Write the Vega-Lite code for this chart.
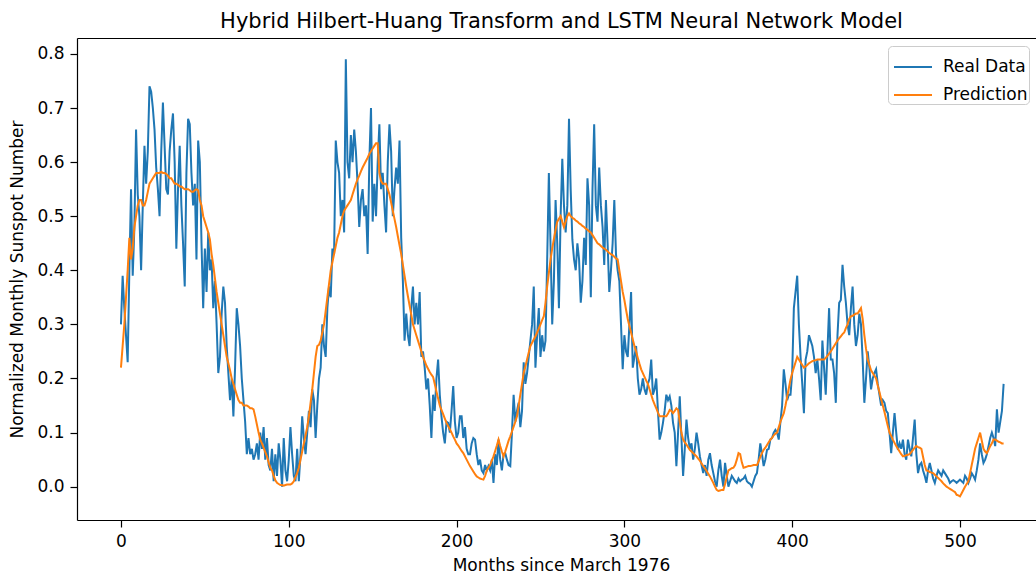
{
"$schema": "https://vega.github.io/schema/vega-lite/v6.json",
"autosize": {"type": "none"},
"padding": {"left": 77, "top": 38, "right": 0, "bottom": 56},
"width": 959,
"height": 482,
"background": "white",
"title": {"text": "Hybrid Hilbert-Huang Transform and LSTM Neural Network Model", "font": "DejaVu Sans", "fontSize": 21, "fontWeight": "normal", "color": "black", "anchor": "middle", "dx": 5, "baseline": "alphabetic", "offset": -11},
"data": {"values": [
{"m":0,"r":0.30,"p":0.22},{"m":1,"r":0.39,"p":0.26},{"m":2,"r":0.33,"p":0.30},{"m":3,"r":0.28,"p":0.35},{"m":4,"r":0.23,"p":0.40},{"m":5,"r":0.40,"p":0.46},{"m":6,"r":0.55,"p":0.42},{"m":7,"r":0.39,"p":0.44},{"m":8,"r":0.48,"p":0.48},{"m":9,"r":0.66,"p":0.50},
{"m":10,"r":0.54,"p":0.52},{"m":11,"r":0.50,"p":0.53},{"m":12,"r":0.40,"p":0.53},{"m":13,"r":0.52,"p":0.52},{"m":14,"r":0.63,"p":0.52},{"m":15,"r":0.56,"p":0.53},{"m":16,"r":0.62,"p":0.545},{"m":17,"r":0.74,"p":0.56},{"m":18,"r":0.73,"p":0.565},{"m":19,"r":0.70,"p":0.57},
{"m":20,"r":0.66,"p":0.575},{"m":21,"r":0.59,"p":0.58},{"m":22,"r":0.55,"p":0.58},{"m":23,"r":0.50,"p":0.58},{"m":24,"r":0.62,"p":0.582},{"m":25,"r":0.71,"p":0.58},{"m":26,"r":0.63,"p":0.58},{"m":27,"r":0.55,"p":0.578},{"m":28,"r":0.54,"p":0.575},{"m":29,"r":0.62,"p":0.57},
{"m":30,"r":0.66,"p":0.57},{"m":31,"r":0.69,"p":0.565},{"m":32,"r":0.60,"p":0.56},{"m":33,"r":0.44,"p":0.56},{"m":34,"r":0.55,"p":0.558},{"m":35,"r":0.63,"p":0.555},{"m":36,"r":0.52,"p":0.555},{"m":37,"r":0.45,"p":0.552},{"m":38,"r":0.37,"p":0.55},{"m":39,"r":0.58,"p":0.55},
{"m":40,"r":0.68,"p":0.55},{"m":41,"r":0.67,"p":0.548},{"m":42,"r":0.58,"p":0.545},{"m":43,"r":0.52,"p":0.545},{"m":44,"r":0.56,"p":0.548},{"m":45,"r":0.42,"p":0.55},{"m":46,"r":0.64,"p":0.548},{"m":47,"r":0.60,"p":0.53},{"m":48,"r":0.45,"p":0.52},{"m":49,"r":0.33,"p":0.50},
{"m":50,"r":0.44,"p":0.49},{"m":51,"r":0.36,"p":0.48},{"m":52,"r":0.47,"p":0.47},{"m":53,"r":0.40,"p":0.457},{"m":54,"r":0.42,"p":0.43},{"m":55,"r":0.33,"p":0.41},{"m":56,"r":0.38,"p":0.385},{"m":57,"r":0.30,"p":0.36},{"m":58,"r":0.21,"p":0.34},{"m":59,"r":0.24,"p":0.32},
{"m":60,"r":0.32,"p":0.30},{"m":61,"r":0.37,"p":0.28},{"m":62,"r":0.34,"p":0.26},{"m":63,"r":0.26,"p":0.24},{"m":64,"r":0.21,"p":0.228},{"m":65,"r":0.16,"p":0.215},{"m":66,"r":0.20,"p":0.20},{"m":67,"r":0.13,"p":0.19},{"m":68,"r":0.22,"p":0.18},{"m":69,"r":0.33,"p":0.17},
{"m":70,"r":0.30,"p":0.16},{"m":71,"r":0.26,"p":0.155},{"m":72,"r":0.20,"p":0.155},{"m":73,"r":0.16,"p":0.15},{"m":74,"r":0.12,"p":0.15},{"m":75,"r":0.06,"p":0.15},{"m":76,"r":0.09,"p":0.148},{"m":77,"r":0.06,"p":0.145},{"m":78,"r":0.07,"p":0.145},{"m":79,"r":0.05,"p":0.143},
{"m":80,"r":0.06,"p":0.13},{"m":81,"r":0.08,"p":0.115},{"m":82,"r":0.05,"p":0.10},{"m":83,"r":0.10,"p":0.087},{"m":84,"r":0.07,"p":0.08},{"m":85,"r":0.11,"p":0.072},{"m":86,"r":0.05,"p":0.064},{"m":87,"r":0.09,"p":0.056},{"m":88,"r":0.04,"p":0.045},{"m":89,"r":0.03,"p":0.035},
{"m":90,"r":0.07,"p":0.03},{"m":91,"r":0.01,"p":0.02},{"m":92,"r":0.06,"p":0.012},{"m":93,"r":0.02,"p":0.007},{"m":94,"r":0.08,"p":0.005},{"m":95,"r":0.05,"p":0.003},{"m":96,"r":0.00,"p":0.003},{"m":97,"r":0.09,"p":0.002},{"m":98,"r":0.03,"p":0.003},{"m":99,"r":0.01,"p":0.004},
{"m":100,"r":0.05,"p":0.004},{"m":101,"r":0.11,"p":0.004},{"m":102,"r":0.06,"p":0.006},{"m":103,"r":0.02,"p":0.01},{"m":104,"r":0.01,"p":0.018},{"m":105,"r":0.07,"p":0.025},{"m":106,"r":0.01,"p":0.035},{"m":107,"r":0.06,"p":0.05},{"m":108,"r":0.13,"p":0.065},{"m":109,"r":0.09,"p":0.08},
{"m":110,"r":0.06,"p":0.095},{"m":111,"r":0.10,"p":0.11},{"m":112,"r":0.14,"p":0.13},{"m":113,"r":0.11,"p":0.155},{"m":114,"r":0.18,"p":0.18},{"m":115,"r":0.16,"p":0.21},{"m":116,"r":0.09,"p":0.24},{"m":117,"r":0.15,"p":0.26},{"m":118,"r":0.20,"p":0.262},{"m":119,"r":0.22,"p":0.27},
{"m":120,"r":0.30,"p":0.285},{"m":121,"r":0.26,"p":0.30},{"m":122,"r":0.24,"p":0.325},{"m":123,"r":0.33,"p":0.35},{"m":124,"r":0.37,"p":0.375},{"m":125,"r":0.35,"p":0.40},{"m":126,"r":0.44,"p":0.415},{"m":127,"r":0.43,"p":0.43},{"m":128,"r":0.64,"p":0.445},{"m":129,"r":0.60,"p":0.46},
{"m":130,"r":0.58,"p":0.47},{"m":131,"r":0.50,"p":0.485},{"m":132,"r":0.53,"p":0.50},{"m":133,"r":0.47,"p":0.51},{"m":134,"r":0.79,"p":0.515},{"m":135,"r":0.60,"p":0.52},{"m":136,"r":0.57,"p":0.525},{"m":137,"r":0.65,"p":0.53},{"m":138,"r":0.60,"p":0.54},{"m":139,"r":0.66,"p":0.55},
{"m":140,"r":0.62,"p":0.56},{"m":141,"r":0.56,"p":0.568},{"m":142,"r":0.48,"p":0.575},{"m":143,"r":0.53,"p":0.583},{"m":144,"r":0.55,"p":0.59},{"m":145,"r":0.50,"p":0.596},{"m":146,"r":0.52,"p":0.602},{"m":147,"r":0.43,"p":0.608},{"m":148,"r":0.60,"p":0.615},{"m":149,"r":0.70,"p":0.62},
{"m":150,"r":0.49,"p":0.625},{"m":151,"r":0.56,"p":0.63},{"m":152,"r":0.50,"p":0.635},{"m":153,"r":0.60,"p":0.635},{"m":154,"r":0.67,"p":0.58},{"m":155,"r":0.55,"p":0.565},{"m":156,"r":0.58,"p":0.56},{"m":157,"r":0.52,"p":0.56},{"m":158,"r":0.47,"p":0.56},{"m":159,"r":0.60,"p":0.55},
{"m":160,"r":0.67,"p":0.54},{"m":161,"r":0.62,"p":0.525},{"m":162,"r":0.50,"p":0.51},{"m":163,"r":0.55,"p":0.495},{"m":164,"r":0.59,"p":0.48},{"m":165,"r":0.56,"p":0.463},{"m":166,"r":0.64,"p":0.446},{"m":167,"r":0.46,"p":0.43},{"m":168,"r":0.38,"p":0.41},{"m":169,"r":0.27,"p":0.39},
{"m":170,"r":0.32,"p":0.37},{"m":171,"r":0.28,"p":0.352},{"m":172,"r":0.26,"p":0.335},{"m":173,"r":0.33,"p":0.318},{"m":174,"r":0.37,"p":0.30},{"m":175,"r":0.30,"p":0.29},{"m":176,"r":0.34,"p":0.28},{"m":177,"r":0.30,"p":0.27},{"m":178,"r":0.36,"p":0.26},{"m":179,"r":0.24,"p":0.25},
{"m":180,"r":0.25,"p":0.24},{"m":181,"r":0.22,"p":0.232},{"m":182,"r":0.18,"p":0.224},{"m":183,"r":0.20,"p":0.218},{"m":184,"r":0.15,"p":0.212},{"m":185,"r":0.09,"p":0.207},{"m":186,"r":0.17,"p":0.203},{"m":187,"r":0.14,"p":0.19},{"m":188,"r":0.20,"p":0.176},{"m":189,"r":0.235,"p":0.163},
{"m":190,"r":0.17,"p":0.15},{"m":191,"r":0.13,"p":0.142},{"m":192,"r":0.10,"p":0.134},{"m":193,"r":0.08,"p":0.126},{"m":194,"r":0.12,"p":0.118},{"m":195,"r":0.118,"p":0.112},{"m":196,"r":0.10,"p":0.106},{"m":197,"r":0.14,"p":0.10},{"m":198,"r":0.186,"p":0.093},{"m":199,"r":0.12,"p":0.087},
{"m":200,"r":0.09,"p":0.08},{"m":201,"r":0.10,"p":0.076},{"m":202,"r":0.13,"p":0.071},{"m":203,"r":0.13,"p":0.066},{"m":204,"r":0.09,"p":0.062},{"m":205,"r":0.11,"p":0.056},{"m":206,"r":0.07,"p":0.05},{"m":207,"r":0.06,"p":0.044},{"m":208,"r":0.06,"p":0.038},{"m":209,"r":0.08,"p":0.033},
{"m":210,"r":0.09,"p":0.028},{"m":211,"r":0.087,"p":0.023},{"m":212,"r":0.06,"p":0.019},{"m":213,"r":0.04,"p":0.017},{"m":214,"r":0.05,"p":0.015},{"m":215,"r":0.03,"p":0.014},{"m":216,"r":0.025,"p":0.013},{"m":217,"r":0.04,"p":0.02},{"m":218,"r":0.03,"p":0.03},{"m":219,"r":0.038,"p":0.035},
{"m":220,"r":0.03,"p":0.04},{"m":221,"r":0.05,"p":0.048},{"m":222,"r":0.007,"p":0.056},{"m":223,"r":0.06,"p":0.066},{"m":224,"r":0.04,"p":0.076},{"m":225,"r":0.087,"p":0.087},{"m":226,"r":0.05,"p":0.075},{"m":227,"r":0.03,"p":0.065},{"m":228,"r":0.06,"p":0.056},{"m":229,"r":0.062,"p":0.065},
{"m":230,"r":0.05,"p":0.075},{"m":231,"r":0.04,"p":0.085},{"m":232,"r":0.038,"p":0.093},{"m":233,"r":0.10,"p":0.102},{"m":234,"r":0.17,"p":0.111},{"m":235,"r":0.12,"p":0.12},{"m":236,"r":0.14,"p":0.13},{"m":237,"r":0.155,"p":0.15},{"m":238,"r":0.11,"p":0.17},{"m":239,"r":0.14,"p":0.19},
{"m":240,"r":0.23,"p":0.21},{"m":241,"r":0.19,"p":0.222},{"m":242,"r":0.21,"p":0.235},{"m":243,"r":0.24,"p":0.248},{"m":244,"r":0.27,"p":0.26},{"m":245,"r":0.30,"p":0.266},{"m":246,"r":0.37,"p":0.272},{"m":247,"r":0.22,"p":0.278},{"m":248,"r":0.28,"p":0.285},{"m":249,"r":0.33,"p":0.292},
{"m":250,"r":0.24,"p":0.30},{"m":251,"r":0.28,"p":0.308},{"m":252,"r":0.25,"p":0.315},{"m":253,"r":0.27,"p":0.34},{"m":254,"r":0.42,"p":0.37},{"m":255,"r":0.58,"p":0.395},{"m":256,"r":0.445,"p":0.42},{"m":257,"r":0.30,"p":0.44},{"m":258,"r":0.38,"p":0.458},{"m":259,"r":0.53,"p":0.475},
{"m":260,"r":0.45,"p":0.49},{"m":261,"r":0.33,"p":0.495},{"m":262,"r":0.50,"p":0.50},{"m":263,"r":0.606,"p":0.49},{"m":264,"r":0.52,"p":0.48},{"m":265,"r":0.47,"p":0.49},{"m":266,"r":0.52,"p":0.50},{"m":267,"r":0.68,"p":0.505},{"m":268,"r":0.55,"p":0.50},{"m":269,"r":0.457,"p":0.497},
{"m":270,"r":0.42,"p":0.495},{"m":271,"r":0.40,"p":0.492},{"m":272,"r":0.45,"p":0.49},{"m":273,"r":0.42,"p":0.487},{"m":274,"r":0.34,"p":0.485},{"m":275,"r":0.38,"p":0.482},{"m":276,"r":0.46,"p":0.48},{"m":277,"r":0.41,"p":0.477},{"m":278,"r":0.57,"p":0.475},{"m":279,"r":0.52,"p":0.472},
{"m":280,"r":0.35,"p":0.47},{"m":281,"r":0.55,"p":0.465},{"m":282,"r":0.67,"p":0.46},{"m":283,"r":0.52,"p":0.455},{"m":284,"r":0.49,"p":0.45},{"m":285,"r":0.59,"p":0.448},{"m":286,"r":0.52,"p":0.445},{"m":287,"r":0.48,"p":0.442},{"m":288,"r":0.41,"p":0.44},{"m":289,"r":0.53,"p":0.438},
{"m":290,"r":0.45,"p":0.435},{"m":291,"r":0.36,"p":0.432},{"m":292,"r":0.40,"p":0.43},{"m":293,"r":0.45,"p":0.428},{"m":294,"r":0.53,"p":0.425},{"m":295,"r":0.43,"p":0.422},{"m":296,"r":0.40,"p":0.42},{"m":297,"r":0.38,"p":0.40},{"m":298,"r":0.30,"p":0.38},{"m":299,"r":0.217,"p":0.36},
{"m":300,"r":0.28,"p":0.345},{"m":301,"r":0.25,"p":0.327},{"m":302,"r":0.24,"p":0.31},{"m":303,"r":0.30,"p":0.297},{"m":304,"r":0.36,"p":0.285},{"m":305,"r":0.22,"p":0.272},{"m":306,"r":0.24,"p":0.26},{"m":307,"r":0.26,"p":0.25},{"m":308,"r":0.20,"p":0.238},{"m":309,"r":0.17,"p":0.227},
{"m":310,"r":0.18,"p":0.217},{"m":311,"r":0.20,"p":0.21},{"m":312,"r":0.18,"p":0.203},{"m":313,"r":0.17,"p":0.196},{"m":314,"r":0.19,"p":0.19},{"m":315,"r":0.20,"p":0.18},{"m":316,"r":0.235,"p":0.17},{"m":317,"r":0.17,"p":0.16},{"m":318,"r":0.18,"p":0.152},{"m":319,"r":0.20,"p":0.145},
{"m":320,"r":0.14,"p":0.137},{"m":321,"r":0.087,"p":0.13},{"m":322,"r":0.10,"p":0.13},{"m":323,"r":0.118,"p":0.13},{"m":324,"r":0.14,"p":0.13},{"m":325,"r":0.17,"p":0.13},{"m":326,"r":0.16,"p":0.135},{"m":327,"r":0.167,"p":0.142},{"m":328,"r":0.15,"p":0.14},{"m":329,"r":0.118,"p":0.136},
{"m":330,"r":0.10,"p":0.14},{"m":331,"r":0.038,"p":0.145},{"m":332,"r":0.10,"p":0.142},{"m":333,"r":0.167,"p":0.12},{"m":334,"r":0.09,"p":0.10},{"m":335,"r":0.02,"p":0.087},{"m":336,"r":0.07,"p":0.082},{"m":337,"r":0.124,"p":0.078},{"m":338,"r":0.09,"p":0.073},{"m":339,"r":0.07,"p":0.068},
{"m":340,"r":0.08,"p":0.065},{"m":341,"r":0.05,"p":0.062},{"m":342,"r":0.07,"p":0.059},{"m":343,"r":0.10,"p":0.056},{"m":344,"r":0.08,"p":0.052},{"m":345,"r":0.056,"p":0.048},{"m":346,"r":0.04,"p":0.043},{"m":347,"r":0.025,"p":0.038},{"m":348,"r":0.04,"p":0.034},{"m":349,"r":0.02,"p":0.029},
{"m":350,"r":0.05,"p":0.024},{"m":351,"r":0.062,"p":0.019},{"m":352,"r":0.04,"p":0.013},{"m":353,"r":0.025,"p":0.007},{"m":354,"r":0.01,"p":0.0},{"m":355,"r":0.0,"p":-0.006},{"m":356,"r":0.03,"p":-0.008},{"m":357,"r":0.05,"p":-0.007},{"m":358,"r":0.02,"p":-0.006},{"m":359,"r":0.0,"p":-0.006},
{"m":360,"r":0.044,"p":0.005},{"m":361,"r":0.02,"p":0.018},{"m":362,"r":0.0,"p":0.03},{"m":363,"r":0.01,"p":0.032},{"m":364,"r":0.02,"p":0.034},{"m":365,"r":0.015,"p":0.035},{"m":366,"r":0.01,"p":0.04},{"m":367,"r":0.007,"p":0.05},{"m":368,"r":0.015,"p":0.062},{"m":369,"r":0.01,"p":0.06},
{"m":370,"r":0.013,"p":0.045},{"m":371,"r":0.015,"p":0.035},{"m":372,"r":0.02,"p":0.036},{"m":373,"r":0.01,"p":0.037},{"m":374,"r":0.007,"p":0.038},{"m":375,"r":0.005,"p":0.038},{"m":376,"r":0.0,"p":0.039},{"m":377,"r":0.01,"p":0.04},{"m":378,"r":0.02,"p":0.04},{"m":379,"r":0.025,"p":0.04},
{"m":380,"r":0.05,"p":0.047},{"m":381,"r":0.08,"p":0.055},{"m":382,"r":0.06,"p":0.062},{"m":383,"r":0.038,"p":0.068},{"m":384,"r":0.05,"p":0.072},{"m":385,"r":0.068,"p":0.077},{"m":386,"r":0.07,"p":0.082},{"m":387,"r":0.087,"p":0.087},{"m":388,"r":0.09,"p":0.09},{"m":389,"r":0.10,"p":0.095},
{"m":390,"r":0.105,"p":0.098},{"m":391,"r":0.10,"p":0.10},{"m":392,"r":0.087,"p":0.11},{"m":393,"r":0.12,"p":0.12},{"m":394,"r":0.15,"p":0.128},{"m":395,"r":0.217,"p":0.136},{"m":396,"r":0.19,"p":0.15},{"m":397,"r":0.16,"p":0.166},{"m":398,"r":0.17,"p":0.182},{"m":399,"r":0.17,"p":0.198},
{"m":400,"r":0.21,"p":0.21},{"m":401,"r":0.33,"p":0.22},{"m":402,"r":0.36,"p":0.23},{"m":403,"r":0.39,"p":0.24},{"m":404,"r":0.30,"p":0.235},{"m":405,"r":0.24,"p":0.23},{"m":406,"r":0.19,"p":0.225},{"m":407,"r":0.136,"p":0.22},{"m":408,"r":0.235,"p":0.222},{"m":409,"r":0.25,"p":0.225},
{"m":410,"r":0.28,"p":0.228},{"m":411,"r":0.27,"p":0.23},{"m":412,"r":0.26,"p":0.232},{"m":413,"r":0.24,"p":0.233},{"m":414,"r":0.21,"p":0.234},{"m":415,"r":0.235,"p":0.235},{"m":416,"r":0.20,"p":0.235},{"m":417,"r":0.16,"p":0.235},{"m":418,"r":0.27,"p":0.235},{"m":419,"r":0.22,"p":0.235},
{"m":420,"r":0.17,"p":0.238},{"m":421,"r":0.25,"p":0.242},{"m":422,"r":0.33,"p":0.246},{"m":423,"r":0.235,"p":0.25},{"m":424,"r":0.235,"p":0.255},{"m":425,"r":0.21,"p":0.26},{"m":426,"r":0.155,"p":0.265},{"m":427,"r":0.28,"p":0.27},{"m":428,"r":0.34,"p":0.274},{"m":429,"r":0.345,"p":0.278},
{"m":430,"r":0.41,"p":0.282},{"m":431,"r":0.37,"p":0.285},{"m":432,"r":0.34,"p":0.293},{"m":433,"r":0.30,"p":0.30},{"m":434,"r":0.28,"p":0.31},{"m":435,"r":0.33,"p":0.315},{"m":436,"r":0.37,"p":0.316},{"m":437,"r":0.30,"p":0.318},{"m":438,"r":0.26,"p":0.32},{"m":439,"r":0.28,"p":0.32},
{"m":440,"r":0.32,"p":0.325},{"m":441,"r":0.30,"p":0.33},{"m":442,"r":0.235,"p":0.31},{"m":443,"r":0.155,"p":0.28},{"m":444,"r":0.20,"p":0.255},{"m":445,"r":0.25,"p":0.235},{"m":446,"r":0.22,"p":0.225},{"m":447,"r":0.18,"p":0.215},{"m":448,"r":0.20,"p":0.21},{"m":449,"r":0.21,"p":0.205},
{"m":450,"r":0.217,"p":0.20},{"m":451,"r":0.19,"p":0.187},{"m":452,"r":0.17,"p":0.175},{"m":453,"r":0.15,"p":0.162},{"m":454,"r":0.16,"p":0.15},{"m":455,"r":0.155,"p":0.138},{"m":456,"r":0.14,"p":0.125},{"m":457,"r":0.136,"p":0.112},{"m":458,"r":0.10,"p":0.10},{"m":459,"r":0.062,"p":0.094},
{"m":460,"r":0.10,"p":0.087},{"m":461,"r":0.136,"p":0.081},{"m":462,"r":0.10,"p":0.075},{"m":463,"r":0.068,"p":0.07},{"m":464,"r":0.08,"p":0.065},{"m":465,"r":0.07,"p":0.06},{"m":466,"r":0.087,"p":0.056},{"m":467,"r":0.06,"p":0.057},{"m":468,"r":0.05,"p":0.058},{"m":469,"r":0.087,"p":0.059},
{"m":470,"r":0.07,"p":0.06},{"m":471,"r":0.056,"p":0.064},{"m":472,"r":0.09,"p":0.068},{"m":473,"r":0.124,"p":0.072},{"m":474,"r":0.06,"p":0.075},{"m":475,"r":0.025,"p":0.073},{"m":476,"r":0.04,"p":0.072},{"m":477,"r":0.044,"p":0.07},{"m":478,"r":0.03,"p":0.055},{"m":479,"r":0.02,"p":0.04},
{"m":480,"r":0.007,"p":0.03},{"m":481,"r":0.03,"p":0.029},{"m":482,"r":0.044,"p":0.027},{"m":483,"r":0.03,"p":0.026},{"m":484,"r":0.015,"p":0.025},{"m":485,"r":0.007,"p":0.022},{"m":486,"r":0.02,"p":0.019},{"m":487,"r":0.03,"p":0.016},{"m":488,"r":0.025,"p":0.013},{"m":489,"r":0.02,"p":0.01},
{"m":490,"r":0.03,"p":0.006},{"m":491,"r":0.025,"p":0.003},{"m":492,"r":0.02,"p":0.0},{"m":493,"r":0.015,"p":-0.002},{"m":494,"r":0.007,"p":-0.004},{"m":495,"r":0.01,"p":-0.006},{"m":496,"r":0.012,"p":-0.008},{"m":497,"r":0.01,"p":-0.01},{"m":498,"r":0.007,"p":-0.015},{"m":499,"r":0.01,"p":-0.016},
{"m":500,"r":0.013,"p":-0.018},{"m":501,"r":0.01,"p":-0.012},{"m":502,"r":0.007,"p":-0.006},{"m":503,"r":0.02,"p":0.0},{"m":504,"r":0.015,"p":0.005},{"m":505,"r":0.007,"p":0.01},{"m":506,"r":0.015,"p":0.025},{"m":507,"r":0.025,"p":0.04},{"m":508,"r":0.02,"p":0.055},{"m":509,"r":0.013,"p":0.07},
{"m":510,"r":0.03,"p":0.08},{"m":511,"r":0.05,"p":0.09},{"m":512,"r":0.08,"p":0.10},{"m":513,"r":0.06,"p":0.085},{"m":514,"r":0.044,"p":0.07},{"m":515,"r":0.05,"p":0.065},{"m":516,"r":0.06,"p":0.062},{"m":517,"r":0.075,"p":0.068},{"m":518,"r":0.09,"p":0.075},{"m":519,"r":0.10,"p":0.08},
{"m":520,"r":0.09,"p":0.087},{"m":521,"r":0.075,"p":0.087},{"m":522,"r":0.143,"p":0.085},{"m":523,"r":0.10,"p":0.083},{"m":524,"r":0.12,"p":0.082},{"m":525,"r":0.14,"p":0.08},{"m":526,"r":0.19,"p":0.08}
]},
"layer": [
{"mark": {"type": "line", "strokeWidth": 2, "clip": true},
 "encoding": {
  "x": {"field": "m", "type": "quantitative", "scale": {"domain": [-26.2, 545.3], "nice": false, "zero": false},
        "axis": {"values": [0, 100, 200, 300, 400, 500], "title": "Months since March 1976", "titleX": 484, "titlePadding": 8, "labelPadding": 6, "labelFlush": false}},
  "y": {"field": "r", "type": "quantitative", "title": "Normalized Monthly Sunspot Number", "scale": {"domain": [-0.0616, 0.8294], "nice": false, "zero": false},
        "axis": {"values": [0, 0.1, 0.2, 0.3, 0.4, 0.5, 0.6, 0.7, 0.8], "format": ".1f", "titlePadding": 10, "labelFlush": false}},
  "color": {"datum": "Real Data", "type": "nominal", "scale": {"domain": ["Real Data", "Prediction"], "range": ["#1f77b4", "#ff7f0e"]},
        "legend": {"orient": "none", "legendX": 811, "legendY": 8, "title": null, "symbolType": "stroke", "symbolSize": 1444, "symbolStrokeWidth": 2, "symbolOffset": 4, "labelFontSize": 17, "labelFont": "DejaVu Sans", "labelColor": "black", "labelOffset": 10, "padding": 1, "rowPadding": -5, "fillColor": "rgba(255,255,255,0.85)", "strokeColor": "#cccccc", "cornerRadius": 4}}
 }},
{"mark": {"type": "line", "strokeWidth": 2, "clip": true},
 "encoding": {
  "x": {"field": "m", "type": "quantitative", "axis": {"orient": "top", "labels": false, "ticks": false, "title": null, "domain": true}},
  "y": {"field": "p", "type": "quantitative", "title": "Normalized Monthly Sunspot Number"},
  "color": {"datum": "Prediction", "type": "nominal"}
 }}
],
"resolve": {"axis": {"x": "independent"}},
"config": {
 "view": {"stroke": null},
 "axis": {"grid": false, "domainColor": "black", "domainWidth": 1.2, "tickColor": "black", "tickWidth": 1.2, "tickSize": 7, "labelFont": "DejaVu Sans", "labelFontSize": 17, "labelColor": "black", "labelPadding": 6, "titleFont": "DejaVu Sans", "titleFontSize": 17, "titleFontWeight": "normal", "titleColor": "black"}
}
}
